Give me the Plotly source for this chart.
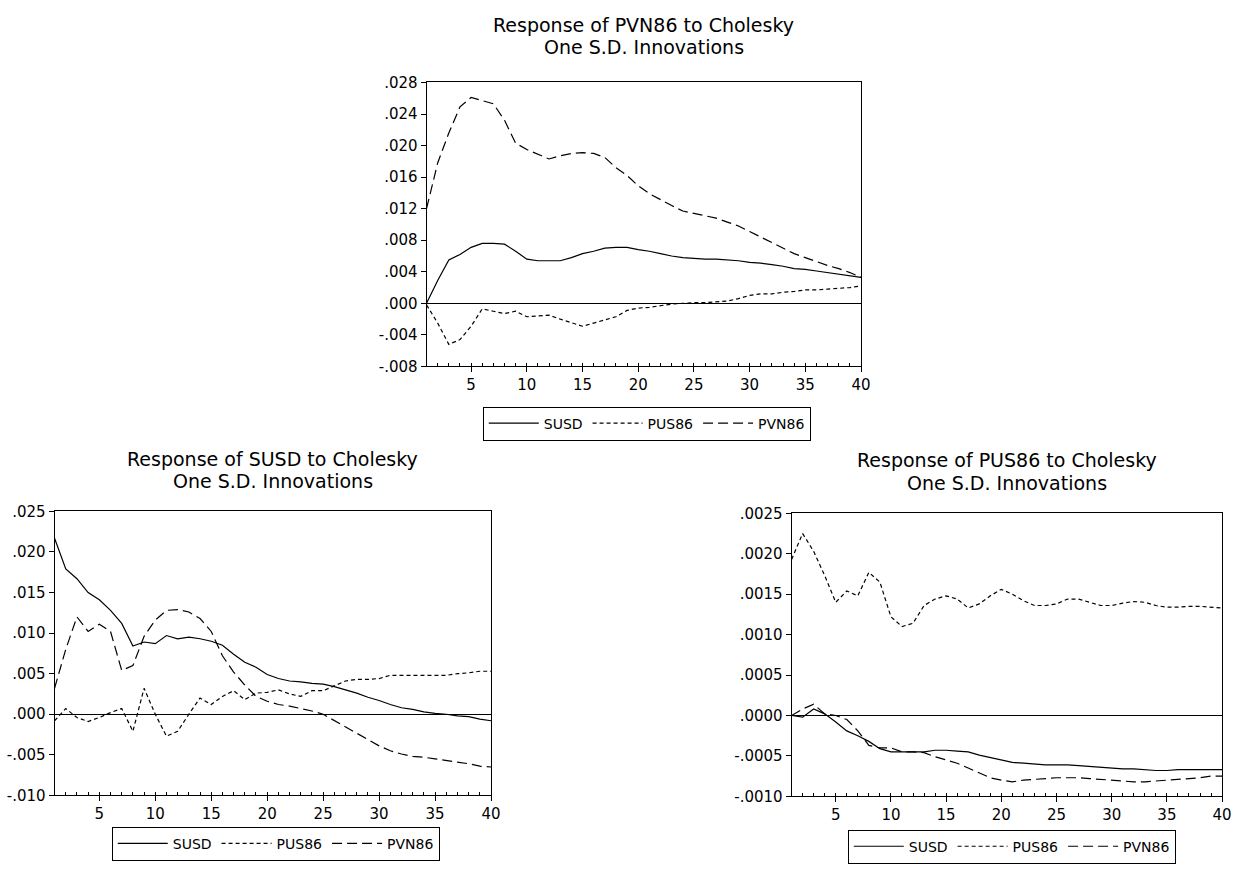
import plotly.graph_objects as go

periods = list(range(1, 41))
series_names = ["SUSD", "PUS86", "PVN86"]

# Response of PVN86
pvn_susd = [0.0000, 0.0029, 0.0055, 0.0062, 0.0071, 0.0076, 0.0076, 0.0075, 0.0066, 0.0056,
            0.0054, 0.0054, 0.0054, 0.0058, 0.0063, 0.0066, 0.0070, 0.0071, 0.0071, 0.0068,
            0.0066, 0.0063, 0.0060, 0.0058, 0.0057, 0.0056, 0.0056, 0.0055, 0.0054, 0.0052,
            0.0051, 0.0049, 0.0047, 0.0044, 0.0043, 0.0041, 0.0039, 0.0037, 0.0035, 0.0033]
pvn_pus86 = [-0.0002, -0.0025, -0.0052, -0.0046, -0.0029, -0.0007, -0.0010, -0.0013, -0.0010, -0.0017,
             -0.0016, -0.0015, -0.0020, -0.0025, -0.0029, -0.0025, -0.0021, -0.0017, -0.0009, -0.0006,
             -0.0005, -0.0003, -0.0001, 0.0000, 0.0001, 0.0001, 0.0002, 0.0003, 0.0006, 0.0010,
             0.0012, 0.0012, 0.0014, 0.0015, 0.0017, 0.0017, 0.0018, 0.0019, 0.0020, 0.0022]
pvn_pvn86 = [0.0120, 0.0178, 0.0216, 0.0249, 0.0261, 0.0257, 0.0253, 0.0232, 0.0203, 0.0195,
             0.0189, 0.0183, 0.0187, 0.0190, 0.0191, 0.0190, 0.0185, 0.0172, 0.0162, 0.0149,
             0.0139, 0.0131, 0.0124, 0.0117, 0.0114, 0.0111, 0.0108, 0.0103, 0.0098, 0.0091,
             0.0084, 0.0077, 0.0070, 0.0063, 0.0058, 0.0053, 0.0048, 0.0044, 0.0039, 0.0033]

# Response of SUSD
susd_susd = [0.0217, 0.0179, 0.0167, 0.0150, 0.0141, 0.0128, 0.0112, 0.0084, 0.0089, 0.0087,
             0.0097, 0.0093, 0.0095, 0.0093, 0.0090, 0.0085, 0.0074, 0.0064, 0.0058, 0.0049,
             0.0044, 0.0041, 0.0040, 0.0038, 0.0037, 0.0034, 0.0030, 0.0026, 0.0021, 0.0017,
             0.0012, 0.0008, 0.0006, 0.0003, 0.0001, 0.0000, -0.0002, -0.0003, -0.0006, -0.0008]
susd_pus86 = [-0.0008, 0.0007, -0.0004, -0.0009, -0.0004, 0.0002, 0.0007, -0.0021, 0.0032, 0.0000,
              -0.0027, -0.0021, 0.0000, 0.0020, 0.0012, 0.0022, 0.0029, 0.0018, 0.0026, 0.0027,
              0.0030, 0.0025, 0.0022, 0.0029, 0.0029, 0.0035, 0.0041, 0.0043, 0.0043, 0.0044,
              0.0048, 0.0048, 0.0048, 0.0048, 0.0048, 0.0048, 0.0050, 0.0051, 0.0053, 0.0053]
susd_pvn86 = [0.0032, 0.0080, 0.0120, 0.0102, 0.0111, 0.0102, 0.0054, 0.0060, 0.0096, 0.0116,
              0.0128, 0.0129, 0.0126, 0.0118, 0.0102, 0.0072, 0.0052, 0.0036, 0.0022, 0.0016,
              0.0012, 0.0010, 0.0007, 0.0004, 0.0000, -0.0008, -0.0016, -0.0023, -0.0031, -0.0039,
              -0.0045, -0.0049, -0.0052, -0.0053, -0.0055, -0.0057, -0.0059, -0.0061, -0.0064, -0.0065]

# Response of PUS86
pus_susd = [0.00000, -0.00002, 0.00008, 0.00002, -0.00008, -0.00019, -0.00025, -0.00032, -0.00041, -0.00045,
            -0.00045, -0.00045, -0.00045, -0.00043, -0.00043, -0.00044, -0.00045, -0.00049, -0.00052, -0.00055,
            -0.00058, -0.00059, -0.00060, -0.00061, -0.00061, -0.00061, -0.00062, -0.00063, -0.00064, -0.00065,
            -0.00066, -0.00066, -0.00067, -0.00068, -0.00068, -0.00067, -0.00067, -0.00067, -0.00067, -0.00067]
pus_pus86 = [0.00193, 0.00225, 0.00203, 0.00173, 0.00140, 0.00154, 0.00148, 0.00177, 0.00165, 0.00122,
             0.00110, 0.00114, 0.00136, 0.00144, 0.00148, 0.00144, 0.00133, 0.00138, 0.00148, 0.00156,
             0.00150, 0.00142, 0.00136, 0.00136, 0.00138, 0.00144, 0.00144, 0.00140, 0.00136, 0.00136,
             0.00139, 0.00141, 0.00140, 0.00136, 0.00134, 0.00134, 0.00135, 0.00135, 0.00134, 0.00133]
pus_pvn86 = [0.00000, 0.00008, 0.00014, 0.00002, 0.00000, -0.00005, -0.00019, -0.00037, -0.00040, -0.00040,
             -0.00045, -0.00045, -0.00046, -0.00051, -0.00055, -0.00059, -0.00065, -0.00071, -0.00077, -0.00080,
             -0.00082, -0.00080, -0.00079, -0.00078, -0.00077, -0.00077, -0.00077, -0.00078, -0.00079, -0.00080,
             -0.00081, -0.00082, -0.00082, -0.00081, -0.00080, -0.00079, -0.00078, -0.00077, -0.00075, -0.00075]

x_tick_vals = [5, 10, 15, 20, 25, 30, 35, 40]
top_ytick_vals = [-0.008, -0.004, 0.0, 0.004, 0.008, 0.012, 0.016, 0.020, 0.024, 0.028]
top_ytick_text = ["-.008", "-.004", ".000", ".004", ".008", ".012", ".016", ".020", ".024", ".028"]
bl_ytick_vals = [-0.010, -0.005, 0.0, 0.005, 0.010, 0.015, 0.020, 0.025]
bl_ytick_text = ["-.010", "-.005", ".000", ".005", ".010", ".015", ".020", ".025"]
br_ytick_vals = [-0.0010, -0.0005, 0.0, 0.0005, 0.0010, 0.0015, 0.0020, 0.0025]
br_ytick_text = ["-.0010", "-.0005", ".0000", ".0005", ".0010", ".0015", ".0020", ".0025"]

titles = [["Response of PVN86 to Cholesky", "One S.D. Innovations"],
          ["Response of SUSD to Cholesky", "One S.D. Innovations"],
          ["Response of PUS86 to Cholesky", "One S.D. Innovations"]]

W, H = 1244, 870
FONT = "DejaVu Sans, Verdana, sans-serif"
dashes = ["solid", "4px,3px", "10px,5px"]

def px_x(p):
    return p / W

def px_y(p):
    return 1 - p / H

fig = go.Figure()

panels = [
    dict(data=[pvn_susd, pvn_pus86, pvn_pvn86], xa="x", ya="y", leg="legend",
         box=(430, 868, 75, 365), yr=(-0.008, 0.028), tv=top_ytick_vals, tt=top_ytick_text,
         title=titles[0], ty=(16, 39), lx=652, ly=406),
    dict(data=[susd_susd, susd_pus86, susd_pvn86], xa="x2", ya="y2", leg="legend2",
         box=(55, 495, 513, 803), yr=(-0.010, 0.025), tv=bl_ytick_vals, tt=bl_ytick_text,
         title=titles[1], ty=(459, 482), lx=278, ly=835),
    dict(data=[pus_susd, pus_pus86, pus_pvn86], xa="x3", ya="y3", leg="legend3",
         box=(798, 1232, 515, 804), yr=(-0.0010, 0.0025), tv=br_ytick_vals, tt=br_ytick_text,
         title=titles[2], ty=(461, 484), lx=1020, ly=838),
]

layout = dict(width=W, height=H, margin=dict(l=0, r=0, t=0, b=0),
              paper_bgcolor="white", plot_bgcolor="white",
              font=dict(family=FONT, color="black", size=13))
annotations = []

for i, pnl in enumerate(panels):
    for j, (name, vals) in enumerate(zip(series_names, pnl["data"])):
        fig.add_trace(go.Scatter(
            x=periods, y=vals, mode="lines", name=name,
            line=dict(color="black", width=1.2, dash=dashes[j]),
            xaxis=pnl["xa"], yaxis=pnl["ya"], legend=pnl["leg"], showlegend=True,
            hoverinfo="skip"))
    l, r, t, b = pnl["box"]
    sfx = "" if i == 0 else str(i + 1)
    layout["xaxis" + sfx] = dict(
        domain=[px_x(l), px_x(r)], range=[1, 40], anchor="y" + sfx,
        showline=True, linecolor="black", linewidth=1, mirror=True,
        showgrid=False, zeroline=False,
        tickvals=x_tick_vals, ticks="outside", ticklen=5, tickcolor="black",
        tickfont=dict(size=15, family=FONT),
        minor=dict(dtick=1, tick0=1, ticks="inside", ticklen=3, tickcolor="black", showgrid=False))
    layout["yaxis" + sfx] = dict(
        domain=[px_y(b), px_y(t)], range=list(pnl["yr"]), anchor="x" + sfx,
        showline=True, linecolor="black", linewidth=1, mirror=True,
        showgrid=False, zeroline=True, zerolinecolor="black", zerolinewidth=1,
        tickvals=pnl["tv"], ticktext=pnl["tt"], ticks="outside", ticklen=5, tickcolor="black",
        tickfont=dict(size=15, family=FONT))
    for line_text, yc in zip(pnl["title"], pnl["ty"]):
        annotations.append(dict(
            text=line_text, xref="paper", yref="paper",
            x=px_x((l + r) / 2), y=px_y(yc), xanchor="center", yanchor="middle",
            showarrow=False, font=dict(size=19, family=FONT, color="black")))
    layout[pnl["leg"]] = dict(
        orientation="h", xref="paper", yref="paper",
        x=px_x(pnl["lx"]), xanchor="center", y=px_y(pnl["ly"]), yanchor="top",
        bordercolor="black", borderwidth=1, bgcolor="white",
        font=dict(size=14, family=FONT, color="black"),
        itemwidth=50, tracegroupgap=0, itemclick=False)

layout["annotations"] = annotations
fig.update_layout(**layout)
fig.write_html("out.html")
